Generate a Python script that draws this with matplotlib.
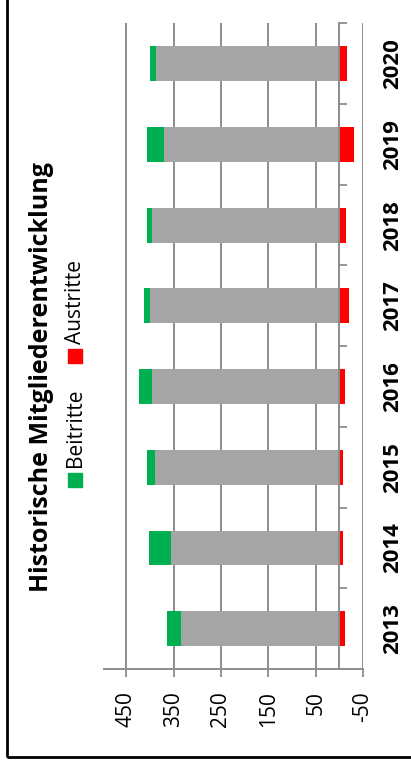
import matplotlib
matplotlib.use('Agg')
import matplotlib.pyplot as plt
from matplotlib.patches import Rectangle
import numpy as np

plt.rcParams['font.family'] = ['Open Sans', 'DejaVu Sans']

jahre = ['2013', '2014', '2015', '2016', '2017', '2018', '2019', '2020']
bestand = [335, 355, 390, 396, 400, 396, 371, 388]
beitritte = [29, 47, 17, 27, 12, 11, 36, 12]
austritte = [-13, -8, -8, -13, -20, -15, -31, -17]
ticks_werte = [450, 350, 250, 150, 50, -50]

grau = '#A5A5A5'
gruen = '#00B050'
rot = '#FF0000'
linie = '#8C8C8C'

fig = plt.figure(figsize=(4.11, 7.65), dpi=100)
ax = fig.add_axes([104/411, 96/765, 259/411, 645.6/765])

y = np.arange(len(jahre))
ax.barh(y, bestand, height=0.43, color=grau, zorder=3)
ax.barh(y, beitritte, left=bestand, height=0.43, color=gruen, zorder=3)
ax.barh(y, austritte, height=0.43, color=rot, zorder=3)

ax.set_xlim(497, -50)
ax.set_ylim(-0.5, len(jahre) - 0.5)
ax.set_xticks(ticks_werte)
ax.set_xticklabels([str(v) for v in ticks_werte], rotation=90)
ax.tick_params(axis='x', length=6, width=1.3, color=linie, pad=10, labelsize=15)
ax.grid(axis='x', color=linie, linewidth=1.4, zorder=0)

# Kategorieachse bei 0
ax.spines['left'].set_position(('data', 0))
ax.spines['left'].set_color(linie)
ax.spines['left'].set_linewidth(1.4)
ax.spines['left'].set_zorder(4)
ax.set_yticks(np.arange(len(jahre) + 1) - 0.5)
ax.set_yticklabels([])
ax.tick_params(axis='y', direction='in', length=6, width=1.3, color=linie)
ax.spines['bottom'].set_color(linie)
ax.spines['bottom'].set_linewidth(1.4)
ax.spines['top'].set_visible(False)
ax.spines['right'].set_visible(False)

ax2 = ax.twinx()
ax2.set_ylim(ax.get_ylim())
ax2.set_yticks(y)
ax2.set_yticklabels(jahre, rotation=90, va='center', fontweight='bold')
ax2.tick_params(axis='y', length=0, pad=14, labelsize=16)
for s in ax2.spines.values():
    s.set_visible(False)

fig.text(42/411, 1 - 377.5/765, 'Historische Mitgliederentwicklung', rotation=90,
         ha='center', va='center', fontsize=18, fontweight='bold')

# Legende (gedreht)
fig.patches.append(Rectangle((68/411, 1 - 487/765), 14/411, 14/765, color=gruen,
                             transform=fig.transFigure, figure=fig))
fig.text(75/411, 1 - 467/765, 'Beitritte', rotation=90, ha='center', va='bottom', fontsize=15)
fig.patches.append(Rectangle((68/411, 1 - 363/765), 14/411, 14/765, color=rot,
                             transform=fig.transFigure, figure=fig))
fig.text(75/411, 1 - 344/765, 'Austritte', rotation=90, ha='center', va='bottom', fontsize=15)

# Rahmen
fig.patches.append(Rectangle((7/411, 8/765), 1.2, 1.2, fill=False, ec='black', lw=2,
                             transform=fig.transFigure, figure=fig))

fig.savefig('out.png', dpi=100)
